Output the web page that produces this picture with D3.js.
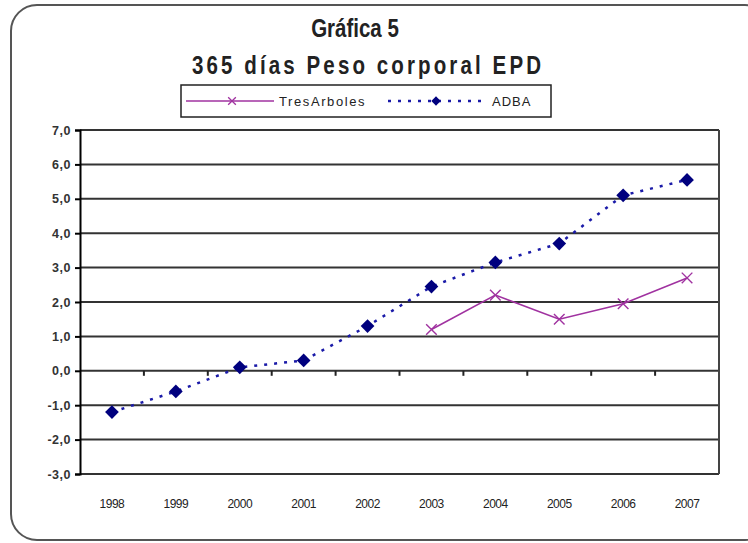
<!DOCTYPE html>
<html>
<head>
<meta charset="utf-8">
<script src="https://cdn.jsdelivr.net/npm/d3@7"></script>
<style>
  body { margin: 0; background: #fff; }
  text { font-family: 'Liberation Sans', Arial, sans-serif; }
</style>
</head>
<body>
<svg width="748" height="543"></svg>
<script>
const years = ['1998', '1999', '2000', '2001', '2002', '2003', '2004', '2005', '2006', '2007']
const adba = [-1.2, -0.6, 0.1, 0.3, 1.3, 2.45, 3.15, 3.7, 5.1, 5.55]
const tresArboles = [null, null, null, null, null, 1.2, 2.2, 1.5, 1.95, 2.7]
const yTicks = [-3, -2, -1, 0, 1, 2, 3, 4, 5, 6, 7]

const svg = d3.select('svg')
const plotLeft = 80, plotRight = 719, plotTop = 130, plotBottom = 474

// rounded outer frame
svg.append('rect')
  .attr('x', 11).attr('y', 5)
  .attr('width', 760).attr('height', 535)
  .attr('rx', 26).attr('ry', 26)
  .attr('fill', '#fff')
  .attr('stroke', '#555').attr('stroke-width', 2)

// condensed-looking titles (horizontal squeeze)
svg.append('text')
  .attr('transform', 'translate(355,37) scale(0.82,1)')
  .attr('text-anchor', 'middle')
  .style('font-size', '25px').style('font-weight', 'bold').attr('fill', '#222')
  .text('Gráfica 5')
svg.append('text')
  .attr('transform', 'translate(368,74) scale(0.82,1)')
  .attr('text-anchor', 'middle')
  .style('font-size', '25px').style('font-weight', 'bold').attr('fill', '#222')
  .style('letter-spacing', '3.8px')
  .text('365 días Peso corporal EPD')

const x = d3.scaleBand().domain(years).range([plotLeft, plotRight])
const y = d3.scaleLinear().domain([-3, 7]).range([plotBottom, plotTop])

// gridlines
svg.append('g').selectAll('line')
  .data(yTicks)
  .join('line')
  .attr('x1', plotLeft).attr('x2', plotRight)
  .attr('y1', d => y(d)).attr('y2', d => y(d))
  .attr('stroke', '#333').attr('stroke-width', 2)

svg.append('line')
  .attr('x1', plotRight).attr('x2', plotRight).attr('y1', plotTop).attr('y2', plotBottom)
  .attr('stroke', '#444').attr('stroke-width', 2)

// y axis
const yAxis = svg.append('g')
  .attr('transform', `translate(${plotLeft},0)`)
  .call(d3.axisLeft(y).tickValues(yTicks).tickSize(5)
    .tickFormat(d => d3.format('.1f')(d).replace('.', ',').replace('−', '-')))
yAxis.select('.domain').attr('stroke', '#000').attr('stroke-width', 2)
yAxis.selectAll('.tick line').attr('stroke', '#000').attr('stroke-width', 2)
yAxis.selectAll('text').style('font-size', '12.5px').style('font-weight', 'bold')
  .attr('fill', '#333').attr('x', -9).style('letter-spacing', '0.5px')

// category axis crossing at zero
const xAxis = svg.append('g')
  .attr('transform', `translate(0,${y(0)})`)
  .call(d3.axisBottom(x).tickSize(0).tickFormat(''))
xAxis.select('.domain').remove()
xAxis.append('g').selectAll('line')
  .data(years.slice(1))
  .join('line')
  .attr('x1', d => x(d)).attr('x2', d => x(d))
  .attr('y1', 0).attr('y2', 5)
  .attr('stroke', '#222').attr('stroke-width', 2)

// year labels at the bottom
svg.append('g').selectAll('text')
  .data(years)
  .join('text')
  .attr('x', d => x(d) + x.bandwidth() / 2)
  .attr('y', 508)
  .attr('text-anchor', 'middle')
  .style('font-size', '12px').attr('fill', '#222')
  .style('letter-spacing', '-0.5px')
  .text(d => d)

const cx = (d, i) => x(years[i]) + x.bandwidth() / 2

// ADBA series
const lineA = d3.line().x(cx).y(d => y(d))
svg.append('path').datum(adba)
  .attr('d', lineA)
  .attr('fill', 'none').attr('stroke', '#1a1aa8')
  .attr('stroke-width', 2.5).attr('stroke-dasharray', '3,7')
svg.append('g').selectAll('path')
  .data(adba)
  .join('path')
  .attr('d', d3.symbol(d3.symbolDiamond2, 120)())
  .attr('transform', (d, i) => `translate(${cx(d, i)},${y(d)})`)
  .attr('fill', '#00007e')

// TresArboles series
const lineT = d3.line().defined(d => d !== null).x(cx).y(d => y(d))
svg.append('path').datum(tresArboles)
  .attr('d', lineT)
  .attr('fill', 'none').attr('stroke', '#a032a0').attr('stroke-width', 1.6)
svg.append('g').selectAll('path')
  .data(tresArboles.map((d, i) => [d, i]).filter(d => d[0] !== null))
  .join('path')
  .attr('d', d3.symbol(d3.symbolX, 75)())
  .attr('transform', d => `translate(${cx(d[0], d[1])},${y(d[0])})`)
  .attr('fill', 'none').attr('stroke', '#a032a0').attr('stroke-width', 1.4)

// legend
const lg = svg.append('g')
lg.append('rect').attr('x', 181).attr('y', 85).attr('width', 370).attr('height', 32)
  .attr('fill', '#fff').attr('stroke', '#222').attr('stroke-width', 1.5)
lg.append('line').attr('x1', 186).attr('x2', 274).attr('y1', 101).attr('y2', 101)
  .attr('stroke', '#a032a0').attr('stroke-width', 1.6)
lg.append('path').attr('d', d3.symbol(d3.symbolX, 40)())
  .attr('transform', 'translate(232,101)')
  .attr('fill', 'none').attr('stroke', '#a032a0').attr('stroke-width', 1.3)
lg.append('text').attr('x', 279).attr('y', 106)
  .style('font-size', '13px').attr('fill', '#222').style('letter-spacing', '1.6px')
  .text('TresArboles')
lg.append('line').attr('x1', 388).attr('x2', 486).attr('y1', 101).attr('y2', 101)
  .attr('stroke', '#1a1aa8').attr('stroke-width', 2.5).attr('stroke-dasharray', '3,7')
lg.append('path').attr('d', d3.symbol(d3.symbolDiamond2, 55)())
  .attr('transform', 'translate(436,101)')
  .attr('fill', '#00007e')
lg.append('text').attr('x', 492).attr('y', 106)
  .style('font-size', '13px').attr('fill', '#222').style('letter-spacing', '1px')
  .text('ADBA')
</script>
</body>
</html>
